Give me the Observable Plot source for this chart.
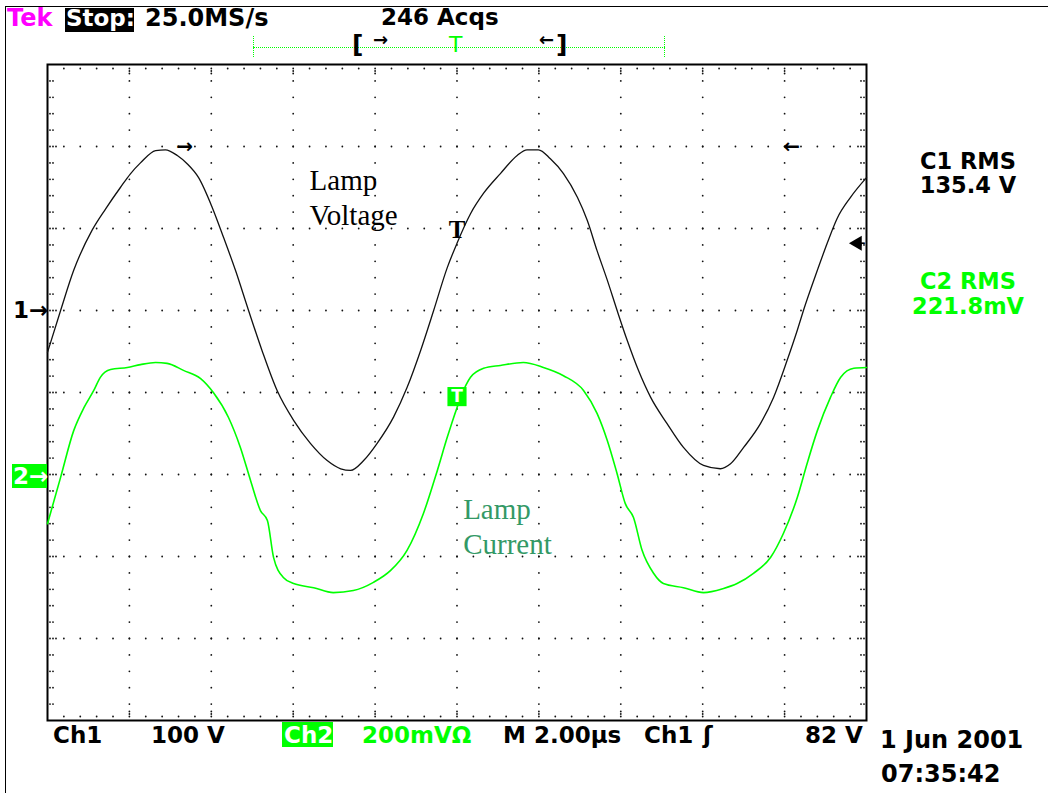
<!DOCTYPE html>
<html>
<head>
<meta charset="utf-8">
<script src="https://cdn.jsdelivr.net/npm/d3@7"></script>
<script src="https://cdn.jsdelivr.net/npm/@observablehq/plot@0.6"></script>
<style>
  body { margin: 0; background: #fff; }
  #wrap { position: relative; width: 1048px; height: 793px; overflow: hidden; background: #fff; }
  #wrap > svg { position: absolute; left: 0; top: 0; }
  .ov { position: absolute; white-space: nowrap; line-height: 1; font-family: "DejaVu Sans", sans-serif; font-weight: bold; }
  .box { position: absolute; }
</style>
</head>
<body>
<div id="wrap"></div>
<script>
// ---------------- data ----------------
// Channel 1: lamp voltage (V) vs time (µs from left edge of screen)
const voltTimeUs = [0.0,0.32,0.64,1.09,1.42,1.78,2.03,2.27,2.64,2.88,3.17,3.41,3.69,4.02,4.30,4.59,4.91,5.24,5.61,6.01,6.42,6.83,7.16,7.40,7.72,8.05,8.45,8.78,9.11,9.43,9.76,10.00,10.33,10.65,11.06,11.47,11.71,11.99,12.28,12.60,12.94,13.18,13.42,13.67,13.91,14.16,14.43,14.73,15.13,15.53,16.02,16.43,16.68,17.00,17.41,17.73,18.06,18.31,18.46,18.80,19.04,19.28,19.61,20.0];
const voltV = [-51,0,49,98,124,150,167,180,195,196,189,179,162,126,89,49,0,-49,-98,-134,-162,-183,-193,-195,-183,-162,-130,-94,-49,0,52,82,118,143,167,189,196,196,185,167,138,110,73,37,0,-37,-73,-106,-138,-167,-189,-193,-187,-167,-138,-106,-61,-24,0,49,82,112,138,162];
// Channel 2: lamp current (mV across shunt) vs time (µs)
const currTimeUs = [0.0,0.32,0.64,0.89,1.13,1.29,1.54,1.95,2.27,2.64,2.92,3.32,3.74,4.05,4.42,4.71,4.96,5.20,5.37,5.52,5.76,6.01,6.50,6.98,7.47,7.96,8.38,8.78,9.18,9.52,9.76,10.00,10.09,10.33,10.65,11.06,11.62,12.11,12.60,13.09,13.42,13.67,13.91,14.11,14.31,14.52,14.80,15.04,15.53,16.02,16.51,16.84,17.24,17.66,17.97,18.31,18.55,18.80,19.12,19.37,19.69,20.0];
const currMv = [-120,-7,107,163,205,237,256,261,268,273,271,254,234,200,139,66,-15,-88,-112,-202,-251,-266,-276,-288,-283,-263,-234,-185,-95,10,90,163,188,237,259,266,273,261,241,205,149,83,2,-71,-105,-185,-241,-266,-276,-288,-278,-266,-241,-202,-144,-56,27,107,188,237,259,261];

// scope settings
const timePerDiv = 2;       // µs/div
const ch1VoltsPerDiv = 100; // V/div
const ch2MvPerDiv = 200;    // mV/div
const ch1OffsetDiv = 1;     // ch1 ground marker, divisions above centre
const ch2OffsetDiv = -1;    // ch2 ground marker
const triggerTimeUs = 10;
const triggerLevelV = 82;
const ch2MarkerMv = 190;
const cursorLevelV = 200;
const cursorTimesUs = [3.35, 18.17];
const cursorGlyphs = ["→", "←"];
const labelVoltage = "Lamp\nVoltage";
const labelCurrent = "Lamp\nCurrent";
const labelVoltagePos = {t: 6.4, v: 177};    // anchor in data units (V)
const labelCurrentPos = {t: 10.15, i: -49};  // anchor in data units (mV)

// readouts / status text
const headerTexts = ["Tek", "Stop:", "25.0MS/s", "246 Acqs"];
const readoutC1 = ["C1 RMS", "135.4 V"];
const readoutC2 = ["C2 RMS", "221.8mV"];
const statusTexts = ["Ch1", "100 V", "Ch2", "200mVΩ", "M 2.00µs", "Ch1", "ʃ", "82 V"];
const dateTexts = ["1 Jun 2001", "07:35:42"];

// ---------------- build ----------------
const voltage = voltTimeUs.map((t, k) => ({t, v: voltV[k]}));
const current = currTimeUs.map((t, k) => ({t, i: currMv[k]}));
const vDiv = v => v / ch1VoltsPerDiv + ch1OffsetDiv;
const iDiv = i => i / ch2MvPerDiv + ch2OffsetDiv;

const tMax = 10 * timePerDiv;
const eps = 1e-6;
const majorT = d3.range(0, tMax + eps, timePerDiv);
const minorT = d3.range(0, tMax + eps, timePerDiv / 5);
const majorY = d3.range(-4, 4 + eps, 1);
const minorY = d3.range(-4, 4 + eps, 0.2);
const inner = (arr, lo, hi) => arr.filter(d => d > lo + eps && d < hi - eps);

const gridDots = [];
for (const t of inner(majorT, 0, tMax)) for (const y of inner(minorY, -4, 4)) gridDots.push({t, y});
for (const y of inner(majorY, -4, 4)) for (const t of inner(minorT, 0, tMax)) gridDots.push({t, y});

const topMinor = inner(minorT, 0, tMax).map(t => ({t, y: 4}));
const topMajor = inner(majorT, 0, tMax).map(t => ({t, y: 4}));
const botMinor = inner(minorT, 0, tMax).map(t => ({t, y: -4}));
const botMajor = inner(majorT, 0, tMax).map(t => ({t, y: -4}));
const leftMinor = inner(minorY, -4, 4).map(y => ({t: 0, y}));
const leftMajor = inner(majorY, -4, 4).map(y => ({t: 0, y}));
const rightMinor = inner(minorY, -4, 4).map(y => ({t: tMax, y}));
const rightMajor = inner(majorY, -4, 4).map(y => ({t: tMax, y}));

const dotStyle = {x: "t", y: "y", r: 0.9, fill: "#111", stroke: null};
const tickDots = [];
for (const dy of [4]) tickDots.push(Plot.dot(topMinor, {...dotStyle, dy}));
for (const dy of [6.5, 9]) tickDots.push(Plot.dot(topMajor, {...dotStyle, dy}));
for (const dy of [-4]) tickDots.push(Plot.dot(botMinor, {...dotStyle, dy}));
for (const dy of [-6.5, -9]) tickDots.push(Plot.dot(botMajor, {...dotStyle, dy}));
for (const dx of [2.5, 5.5]) tickDots.push(Plot.dot(leftMinor, {...dotStyle, dx}));
for (const dx of [8.5]) tickDots.push(Plot.dot(leftMajor, {...dotStyle, dx}));
for (const dx of [-2.5, -5.5]) tickDots.push(Plot.dot(rightMinor, {...dotStyle, dx}));
for (const dx of [-8.5]) tickDots.push(Plot.dot(rightMajor, {...dotStyle, dx}));

const cursors = cursorTimesUs.map((t, k) => ({t, v: cursorLevelV, g: cursorGlyphs[k]}));

const chart = Plot.plot({
  width: 1048,
  height: 793,
  marginLeft: 47,
  marginRight: 182,
  marginTop: 64,
  marginBottom: 73,
  x: {domain: [0, tMax], axis: null},
  y: {domain: [-4, 4], axis: null},
  style: {background: "transparent", overflow: "visible"},
  marks: [
    Plot.dot(gridDots, dotStyle),
    ...tickDots,
    Plot.frame({stroke: "#000", strokeWidth: 2}),
    Plot.line(voltage, {x: "t", y: d => vDiv(d.v), stroke: "#111", strokeWidth: 1.3, curve: "monotone-x"}),
    Plot.line(current, {x: "t", y: d => iDiv(d.i), stroke: "#00ff00", strokeWidth: 1.6, curve: "monotone-x"}),
    Plot.text([labelVoltage], {x: () => labelVoltagePos.t, y: () => vDiv(labelVoltagePos.v), text: d => d,
      textAnchor: "start", lineAnchor: "top", fontFamily: "Liberation Serif", fontSize: 29, lineHeight: 1.2, fill: "#000"}),
    Plot.text([labelCurrent], {x: () => labelCurrentPos.t, y: () => iDiv(labelCurrentPos.i), text: d => d,
      textAnchor: "start", lineAnchor: "top", fontFamily: "Liberation Serif", fontSize: 29, lineHeight: 1.2, fill: "#339966"}),
    // trigger point marker on ch1
    Plot.text(["T"], {x: () => triggerTimeUs, y: () => vDiv(triggerLevelV), text: d => d, dy: -5,
      lineAnchor: "bottom", fontFamily: "Liberation Serif", fontWeight: "bold", fontSize: 25, fill: "#000"}),
    // trigger marker on ch2
    Plot.dot([0], {x: () => triggerTimeUs, y: () => iDiv(ch2MarkerMv), symbol: "square", r: 10.8, fill: "#00ff00", stroke: null}),
    Plot.text(["T"], {x: () => triggerTimeUs, y: () => iDiv(ch2MarkerMv), text: d => d, lineAnchor: "middle",
      fontFamily: "DejaVu Sans", fontWeight: "bold", fontSize: 17, fill: "#fff"}),
    // level cursors
    Plot.text(cursors, {x: "t", y: d => vDiv(d.v), text: "g", lineAnchor: "middle", fontFamily: "DejaVu Sans", fontWeight: "bold", fontSize: 20, fill: "#000"}),
    // trigger level arrow at right edge
    Plot.dot([0], {x: () => tMax, y: () => vDiv(triggerLevelV), symbol: "triangle", rotate: -90, r: 5.5, dx: -9, fill: "#000", stroke: null}),
    Plot.text(["–"], {x: () => tMax, y: () => vDiv(triggerLevelV), text: d => d, textAnchor: "end", lineAnchor: "middle", dx: -1, fontFamily: "DejaVu Sans", fontWeight: "bold", fontSize: 12, fill: "#000"})
  ]
});
const wrap = document.getElementById("wrap");
wrap.appendChild(chart);

// ---------------- overlay UI text ----------------
function box(left, top, w, h, bg, extra) {
  const d = document.createElement("div");
  d.className = "box";
  Object.assign(d.style, {left: left + "px", top: top + "px", width: w + "px", height: h + "px", background: bg}, extra || {});
  wrap.appendChild(d);
  return d;
}
function txt(text, left, capTop, size, color, extra) {
  const d = document.createElement("div");
  d.className = "ov";
  d.textContent = text;
  Object.assign(d.style, {left: left + "px", top: (capTop - 0.117 * size) + "px", fontSize: size + "px", color}, extra || {});
  wrap.appendChild(d);
  return d;
}
function ctxt(text, centerX, capTop, size, color) {
  return txt(text, centerX - 150, capTop, size, color, {width: "300px", textAlign: "center"});
}

// outer screen frame
box(5, 6, 1200, 1000, "transparent", {borderLeft: "1.5px solid #000", borderTop: "1.5px solid #000"});

// header
txt(headerTexts[0], 7, 9, 24, "#ff00ff");
box(65, 8, 69, 24, "#000");
txt(headerTexts[1], 66, 10, 23, "#fff");
txt(headerTexts[2], 145, 9, 24, "#000");
txt(headerTexts[3], 381, 9, 23, "#000");
// record bar
box(253, 47, 412, 0, "transparent", {borderTop: "1.5px dotted #00ff00"});
box(253, 36, 0, 21, "transparent", {borderLeft: "1.5px dotted #00ff00"});
box(664, 36, 0, 21, "transparent", {borderLeft: "1.5px dotted #00ff00"});
txt("[", 352, 35, 25, "#000");
txt("]", 556, 35, 25, "#000");
txt("→", 373, 33, 18, "#000");
txt("←", 539, 33, 18, "#000");
txt("T", 449, 37, 22, "#00ff00", {fontWeight: "normal"});

// channel ground markers
txt("1→", 13, 302, 23, "#000");
box(12, 464, 35, 24, "#00ff00");
txt("2→", 13, 468, 23, "#fff");

// readouts
ctxt(readoutC1[0], 968, 153, 22.5, "#000");
ctxt(readoutC1[1], 968, 177, 22.5, "#000");
ctxt(readoutC2[0], 968, 273, 22.5, "#00ff00");
ctxt(readoutC2[1], 968, 298, 22.5, "#00ff00");

// status line
txt(statusTexts[0], 53, 727, 23, "#000");
txt(statusTexts[1], 151, 727, 23, "#000");
box(282, 722, 51, 25, "#00ff00");
txt(statusTexts[2], 284, 727, 23, "#fff");
txt(statusTexts[3], 362, 727, 23, "#00ff00");
txt(statusTexts[4], 503, 727, 23, "#000");
txt(statusTexts[5], 644, 727, 23, "#000");
txt(statusTexts[6], 703, 727, 23, "#000");
txt(statusTexts[7], 805, 727, 23, "#000");
txt(dateTexts[0], 880, 731, 24, "#000");
txt(dateTexts[1], 881, 765, 24, "#000");
</script>
</body>
</html>
